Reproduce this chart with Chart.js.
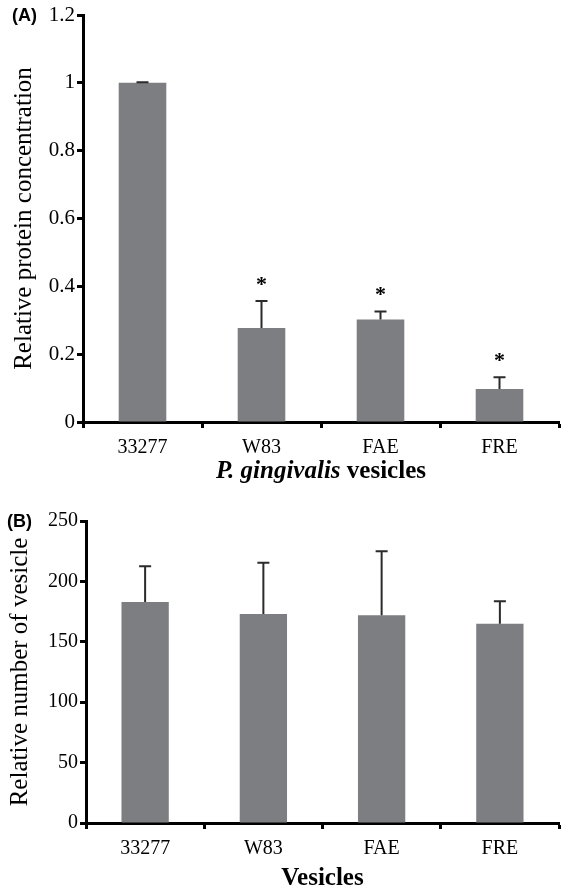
<!DOCTYPE html>
<html>
<head>
<meta charset="utf-8">
<script src="https://cdn.jsdelivr.net/npm/chart.js@4"></script>
<style>
body { margin: 0; background: #fff; width: 565px; height: 889px; position: relative; overflow: hidden; }
canvas { position: absolute; left: 0; }
</style>
</head>
<body>
<canvas id="chartA" width="565" height="490" style="top:0px"></canvas>
<canvas id="chartB" width="565" height="399" style="top:490px"></canvas>
<script>
// data
var strains = ["33277", "W83", "FAE", "FRE"];
var proteinVals = [1.0, 0.277, 0.302, 0.097];
var proteinErr = [0.002, 0.080, 0.024, 0.035];
var proteinSig = ["", "*", "*", "*"];
var vesicleVals = [183, 173, 172, 165];
var vesicleErr = [29.5, 42.5, 53, 18.5];

var serif = "'Liberation Serif', 'Times New Roman', serif";
var barGrey = "#7d7e82";

// error bars + asterisks, drawn with the chart's own y scale
function errorBarPlugin(vals, errs, sig) {
    return {
        id: "errorBars",
        afterDatasetsDraw: function (chart) {
            var ctx = chart.ctx;
            var y = chart.scales.y;
            var meta = chart.getDatasetMeta(0);
            ctx.save();
            ctx.strokeStyle = "#2b2b2b";
            ctx.lineWidth = 2;
            meta.data.forEach(function (bar, i) {
                var top = y.getPixelForValue(vals[i]);
                var end = y.getPixelForValue(vals[i] + errs[i]);
                ctx.beginPath();
                ctx.moveTo(bar.x, top);
                ctx.lineTo(bar.x, end);
                ctx.moveTo(bar.x - 6, end);
                ctx.lineTo(bar.x + 6, end);
                ctx.stroke();
                if (sig && sig[i]) {
                    ctx.fillStyle = "#000";
                    ctx.font = "bold 22px " + serif;
                    ctx.textAlign = "center";
                    ctx.textBaseline = "middle";
                    ctx.fillText(sig[i], bar.x, end - 16);
                }
            });
            ctx.restore();
        }
    };
}

function panelLabel(text, x) {
    return {
        id: "panelLabel",
        afterDraw: function (chart) {
            var ctx = chart.ctx;
            var y = chart.scales.y;
            ctx.save();
            ctx.fillStyle = "#000";
            ctx.font = "bold 18px 'Liberation Sans', Arial, sans-serif";
            ctx.textAlign = "left";
            ctx.textBaseline = "middle";
            ctx.fillText(text, x, y.getPixelForValue(y.max) + 1);
            ctx.restore();
        }
    };
}

// "P. gingivalis vesicles" has mixed italic/bold, so draw it by hand
var mixedTitle = {
    id: "mixedTitle",
    afterDraw: function (chart) {
        var ctx = chart.ctx;
        var a = chart.chartArea;
        var f1 = "italic bold 25px " + serif;
        var f2 = "bold 25px " + serif;
        ctx.save();
        ctx.font = f1;
        var w1 = ctx.measureText("P. gingivalis").width;
        ctx.font = f2;
        var w2 = ctx.measureText(" vesicles").width;
        var x0 = (a.left + a.right) / 2 - (w1 + w2) / 2;
        var yy = a.bottom + 50;
        ctx.fillStyle = "#000";
        ctx.textBaseline = "middle";
        ctx.textAlign = "left";
        ctx.font = f1;
        ctx.fillText("P. gingivalis", x0, yy);
        ctx.font = f2;
        ctx.fillText(" vesicles", x0 + w1, yy);
        ctx.restore();
    }
};

function axisGrid() {
    return {
        display: true,
        drawOnChartArea: false,
        drawTicks: true,
        tickLength: 6,
        tickColor: "#000",
        tickWidth: 3
    };
}

function barOptions(yMin, yMax, step, yTitle, yTitleSize, yTitlePad, tickSize, yWidth, xHeight, padTop, xTitle) {
    return {
        responsive: false,
        animation: false,
        layout: { padding: { top: padTop, right: 6, left: 0, bottom: 0 } },
        plugins: {
            legend: { display: false },
            tooltip: { enabled: false }
        },
        scales: {
            x: {
                grid: axisGrid(),
                border: { display: true, color: "#000", width: 3 },
                ticks: { color: "#000", font: { family: serif, size: 20 }, padding: 8 },
                title: xTitle ? { display: true, text: xTitle, color: "#000",
                    font: { family: serif, size: 25, weight: "bold", lineHeight: 0.8 },
                    padding: { top: 2, bottom: 0 } } : { display: false },
                afterFit: function (s) { s.height = xHeight; }
            },
            y: {
                min: yMin,
                max: yMax,
                grid: axisGrid(),
                border: { display: true, color: "#000", width: 3 },
                ticks: {
                    stepSize: step, color: "#000", font: { family: serif, size: tickSize }, padding: 2,
                    callback: function (v) { return String(Math.round(v * 10) / 10); }
                },
                title: { display: true, text: yTitle, color: "#000",
                    font: { family: serif, size: yTitleSize }, padding: { top: yTitlePad, bottom: 2 } },
                afterFit: function (s) { s.width = yWidth; }
            }
        }
    };
}

new Chart(document.getElementById("chartA"), {
    type: "bar",
    data: {
        labels: strains,
        datasets: [{
            data: proteinVals,
            backgroundColor: barGrey,
            barPercentage: 0.4,
            categoryPercentage: 1.0
        }]
    },
    options: barOptions(0, 1.2, 0.2, "Relative protein concentration", 25, 9, 21, 83, 68, 15, null),
    plugins: [errorBarPlugin(proteinVals, proteinErr, proteinSig), panelLabel("(A)", 12), mixedTitle]
});

new Chart(document.getElementById("chartB"), {
    type: "bar",
    data: {
        labels: strains,
        datasets: [{
            data: vesicleVals,
            backgroundColor: barGrey,
            barPercentage: 0.4,
            categoryPercentage: 1.0
        }]
    },
    options: barOptions(0, 250, 50, "Relative number of vesicle", 25, 5, 20, 86, 66, 31, "Vesicles"),
    plugins: [errorBarPlugin(vesicleVals, vesicleErr, null), panelLabel("(B)", 7)]
});
</script>
</body>
</html>
